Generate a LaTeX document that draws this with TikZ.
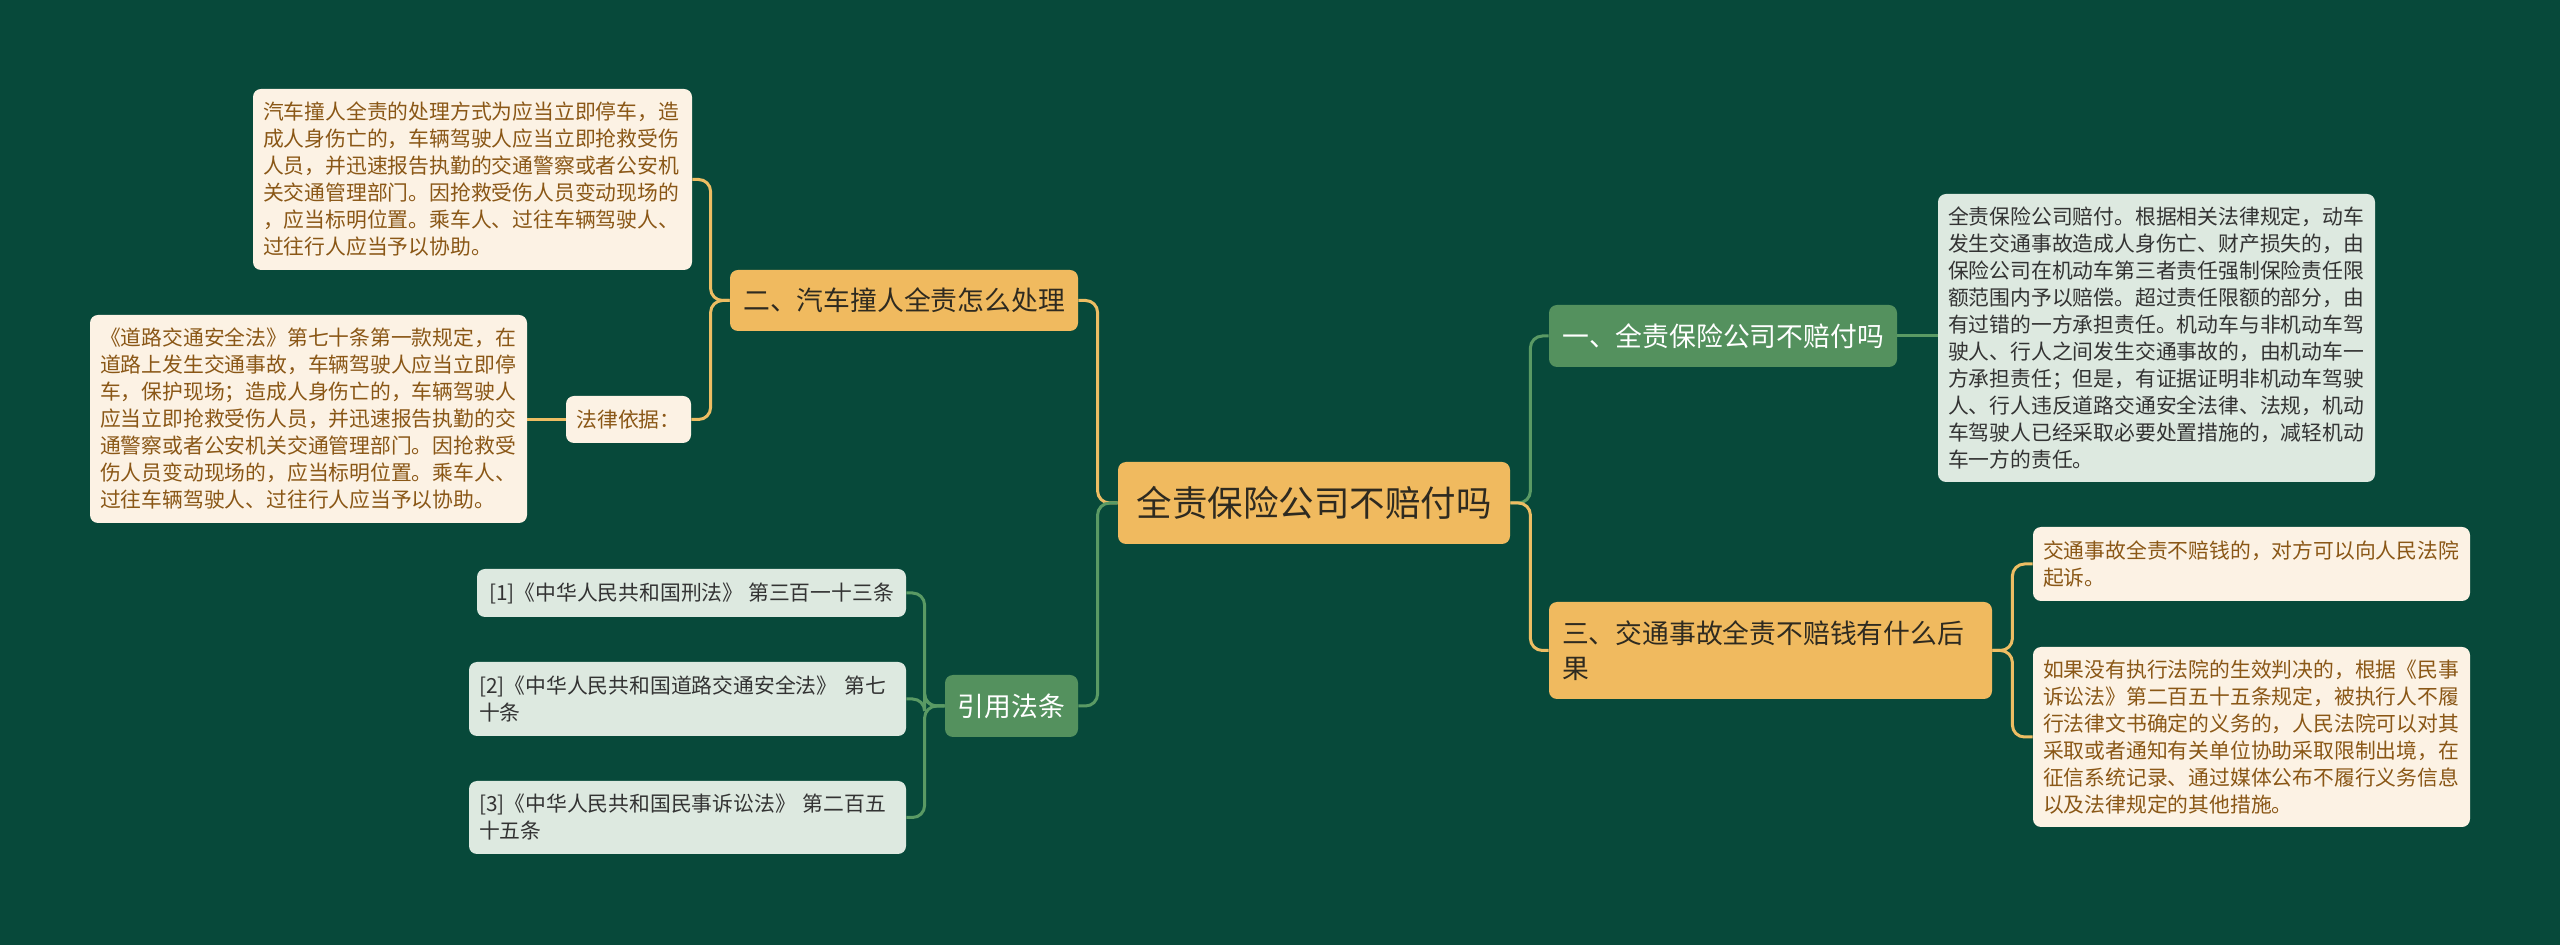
\documentclass[tikz,border=0pt]{standalone}
\usepackage{fontspec}
\setmainfont{Noto Sans CJK SC}
\definecolor{cBg}{HTML}{07493A}
\definecolor{cOrange}{HTML}{F0BA5F}
\definecolor{cGreen}{HTML}{54915E}
\definecolor{cLight}{HTML}{DDE9E0}
\definecolor{cCream}{HTML}{FCF2E4}
\definecolor{cBrown}{HTML}{8A5716}
\definecolor{cDark}{HTML}{2E2A20}
\definecolor{cGray}{HTML}{333333}
\definecolor{cLineO}{HTML}{EDBD63}
\definecolor{cLineG}{HTML}{5A9A64}
\begin{document}
\begin{tikzpicture}[x=0.5pt,y=-0.5pt,
  base/.style={rounded corners=4pt, inner ysep=0pt, anchor=center},
  orangebox/.style={base, fill=cOrange, text=cDark},
  greenbox/.style={base, fill=cGreen, text=white},
  lightbox/.style={base, fill=cLight, text=cGray},
  creambox/.style={base, fill=cCream, text=cBrown},
  bodyfont/.style={font=\fontsize{10.4pt}{13.5pt}\selectfont},
  midfont/.style={font=\fontsize{13.4pt}{17.5pt}\selectfont},
  bigfont/.style={font=\fontsize{17.75pt}{22pt}\selectfont},
  para/.style={text width=#1, inner xsep=5pt, align=left},
  conn/.style={line width=1.5pt, rounded corners=6pt},
  connO/.style={conn, draw=cLineO},
  connG/.style={conn, draw=cLineG}]
\useasboundingbox (0,0) rectangle (2560,945);
\fill[cBg] (0,0) rectangle (2560,945);

% root
\node[orangebox, bigfont, minimum width=196pt, minimum height=41pt] (root) at (1314,503) {全责保险公司不赔付吗};

% level 1
\node[greenbox, midfont, minimum width=174pt, minimum height=31pt] (n1) at (1723,336) {一、全责保险公司不赔付吗};
\node[orangebox, midfont, text width=208.5pt, inner xsep=6.5pt, align=left, minimum height=48.5pt] (n3) at (1770.5,650.5) {三、交通事故全责不赔钱有什么后\\果};
\node[orangebox, midfont, minimum width=174pt, minimum height=30.5pt] (n2) at (904,300.5) {二、汽车撞人全责怎么处理};
\node[greenbox, midfont, minimum width=66.5pt, minimum height=31pt] (n4) at (1011.5,706) {引用法条};

% right leaves
\node[lightbox, bodyfont, para=208.5pt, minimum height=144pt] (t1) at (2156.5,338) {全责保险公司赔付。根据相关法律规定，动车\\发生交通事故造成人身伤亡、财产损失的，由\\保险公司在机动车第三者责任强制保险责任限\\额范围内予以赔偿。超过责任限额的部分，由\\有过错的一方承担责任。机动车与非机动车驾\\驶人、行人之间发生交通事故的，由机动车一\\方承担责任；但是，有证据证明非机动车驾驶\\人、行人违反道路交通安全法律、法规，机动\\车驾驶人已经采取必要处置措施的，减轻机动\\车一方的责任。};
\node[creambox, bodyfont, para=208.5pt, minimum height=37pt] (t3a) at (2251.5,564) {交通事故全责不赔钱的，对方可以向人民法院\\起诉。};
\node[creambox, bodyfont, para=208.5pt, minimum height=90pt] (t3b) at (2251.5,737) {如果没有执行法院的生效判决的，根据《民事\\诉讼法》第二百五十五条规定，被执行人不履\\行法律文书确定的义务的，人民法院可以对其\\采取或者通知有关单位协助采取限制出境，在\\征信系统记录、通过媒体公布不履行义务信息\\以及法律规定的其他措施。};

% left leaves
\node[creambox, bodyfont, para=209.5pt, minimum height=90.5pt] (t2a) at (472.5,179.5) {汽车撞人全责的处理方式为应当立即停车，造\\成人身伤亡的，车辆驾驶人应当立即抢救受伤\\人员，并迅速报告执勤的交通警察或者公安机\\关交通管理部门。因抢救受伤人员变动现场的\\，应当标明位置。乘车人、过往车辆驾驶人、\\过往行人应当予以协助。};
\node[creambox, bodyfont, minimum width=62.5pt, minimum height=23.5pt] (t2b) at (628.5,419.5) {法律依据：};
\node[creambox, bodyfont, para=208.5pt, minimum height=104pt] (t2c) at (308.5,419) {《道路交通安全法》第七十条第一款规定，在\\道路上发生交通事故，车辆驾驶人应当立即停\\车，保护现场；造成人身伤亡的，车辆驾驶人\\应当立即抢救受伤人员，并迅速报告执勤的交\\通警察或者公安机关交通管理部门。因抢救受\\伤人员变动现场的，应当标明位置。乘车人、\\过往车辆驾驶人、过往行人应当予以协助。};

\node[lightbox, bodyfont, minimum width=214.5pt, minimum height=24pt] (r1) at (691.5,593) {[1]《中华人民共和国刑法》 第三百一十三条};
\node[lightbox, bodyfont, para=208.5pt, minimum height=37pt] (r2) at (687.5,699) {[2]《中华人民共和国道路交通安全法》 第七\\十条};
\node[lightbox, bodyfont, para=208.5pt, minimum height=36.5pt] (r3) at (687.5,817.5) {[3]《中华人民共和国民事诉讼法》 第二百五\\十五条};

% connectors
\draw[connG] (root.east) -- ++(20,0) |- (n1.west);
\draw[connO] (root.east) -- ++(20,0) |- (n3.west);
\draw[connG] (n1.east) -- (n1.east -| t1.west);
\draw[connO] (n3.east) -- ++(20,0) |- (t3a.west);
\draw[connO] (n3.east) -- ++(20,0) |- (t3b.west);
\draw[connO] (root.west) -- ++(-20,0) |- (n2.east);
\draw[connG] (root.west) -- ++(-20,0) |- (n4.east);
\draw[connO] (n2.west) -- ++(-19,0) |- (t2a.east);
\draw[connO] (n2.west) -- ++(-19,0) |- (t2b.east);
\draw[connO] (t2b.west) -- (t2b.west -| t2c.east);
\draw[connG] (n4.west) -- ++(-20,0) |- (r1.east);
\draw[connG] (n4.west) -- ++(-20,0) |- (r2.east);
\draw[connG] (n4.west) -- ++(-20,0) |- (r3.east);
\end{tikzpicture}
\end{document}
